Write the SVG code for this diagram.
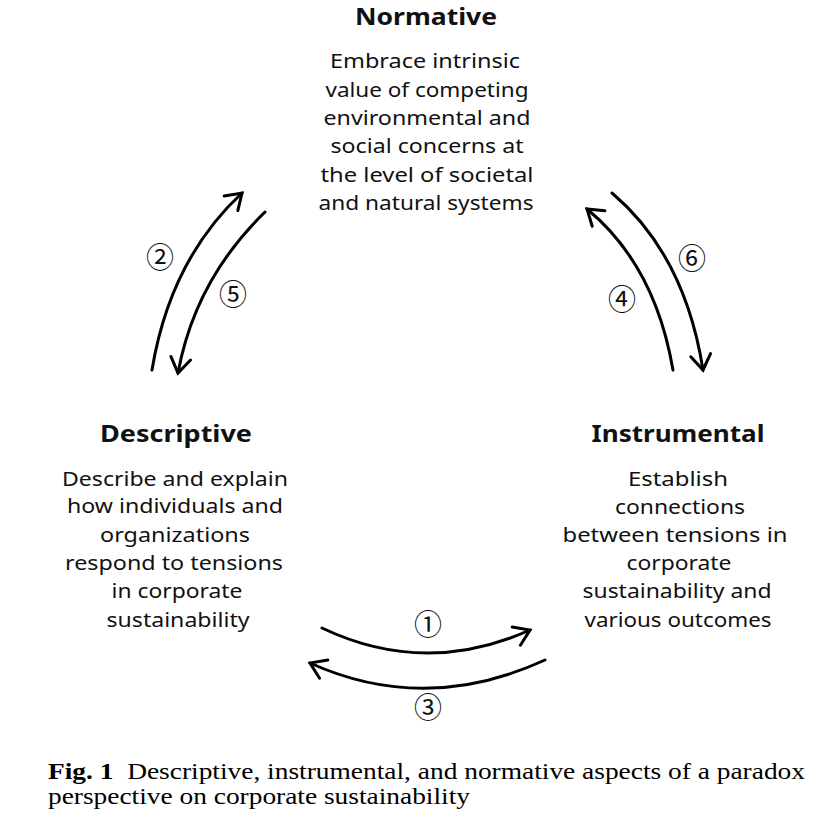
<svg xmlns="http://www.w3.org/2000/svg" width="838" height="822" viewBox="0 0 838 822">
<defs>
<style>
.t{font-family:"Noto Sans","Liberation Sans",sans-serif;font-size:20.5px;fill:#111;text-anchor:middle}
.h{font-family:"Noto Sans","Liberation Sans",sans-serif;font-size:23px;font-weight:bold;fill:#111;text-anchor:middle}
.n{font-family:"Noto Sans CJK JP","Noto Sans CJK SC",sans-serif;font-size:28px;fill:#111;text-anchor:middle}
.c{font-family:"Liberation Serif","Times New Roman",serif;font-size:24px;fill:#000;white-space:pre}
.a{fill:none;stroke:#000;stroke-width:3;stroke-linecap:round;marker-end:url(#ah)}
</style>
<marker id="ah" markerUnits="userSpaceOnUse" markerWidth="40" markerHeight="40" refX="0" refY="0" orient="auto" overflow="visible">
<path d="M-15,-10 L0,0 L-15,10" fill="none" stroke="#000" stroke-width="3" stroke-linecap="round" stroke-linejoin="miter"/>
</marker>
</defs>
<rect width="838" height="822" fill="#fff"/>
<g id="normative">
<text class="h" x="426" y="25" textLength="142" lengthAdjust="spacingAndGlyphs">Normative</text>
<text class="t" x="425" y="68" textLength="190" lengthAdjust="spacingAndGlyphs">Embrace intrinsic</text>
<text class="t" x="427" y="97" textLength="203" lengthAdjust="spacingAndGlyphs">value of competing</text>
<text class="t" x="427" y="125" textLength="207" lengthAdjust="spacingAndGlyphs">environmental and</text>
<text class="t" x="427" y="153" textLength="193" lengthAdjust="spacingAndGlyphs">social concerns at</text>
<text class="t" x="427" y="182" textLength="213" lengthAdjust="spacingAndGlyphs">the level of societal</text>
<text class="t" x="426" y="210" textLength="215" lengthAdjust="spacingAndGlyphs">and natural systems</text>
</g>
<g id="descriptive">
<text class="h" x="176" y="442" textLength="152" lengthAdjust="spacingAndGlyphs">Descriptive</text>
<text class="t" x="175" y="486" textLength="226" lengthAdjust="spacingAndGlyphs">Describe and explain</text>
<text class="t" x="175" y="513" textLength="216" lengthAdjust="spacingAndGlyphs">how individuals and</text>
<text class="t" x="175" y="542" textLength="150" lengthAdjust="spacingAndGlyphs">organizations</text>
<text class="t" x="174" y="570" textLength="218" lengthAdjust="spacingAndGlyphs">respond to tensions</text>
<text class="t" x="177" y="598" textLength="131" lengthAdjust="spacingAndGlyphs">in corporate</text>
<text class="t" x="178" y="627" textLength="143" lengthAdjust="spacingAndGlyphs">sustainability</text>
</g>
<g id="instrumental">
<text class="h" x="678" y="442" textLength="173" lengthAdjust="spacingAndGlyphs">Instrumental</text>
<text class="t" x="678" y="486" textLength="100" lengthAdjust="spacingAndGlyphs">Establish</text>
<text class="t" x="680" y="514" textLength="130" lengthAdjust="spacingAndGlyphs">connections</text>
<text class="t" x="675" y="542" textLength="225" lengthAdjust="spacingAndGlyphs">between tensions in</text>
<text class="t" x="679" y="570" textLength="105" lengthAdjust="spacingAndGlyphs">corporate</text>
<text class="t" x="677" y="598" textLength="189" lengthAdjust="spacingAndGlyphs">sustainability and</text>
<text class="t" x="678" y="627" textLength="187" lengthAdjust="spacingAndGlyphs">various outcomes</text>
</g>
<g id="connectors">
<path class="a" d="M322,628 Q425,677 530,630"/>
<path class="a" d="M545,660 Q425,715 310,663"/>
<path class="a" d="M152,370 Q170,260 242,193"/>
<path class="a" d="M265,212 Q195,280 178,373"/>
<path class="a" d="M673,370 Q655,265 587,209"/>
<path class="a" d="M612,193 Q685,255 703,370"/>
</g>
<g id="labels">
<text class="n" x="428" y="635">①</text>
<text class="n" x="160" y="268">②</text>
<text class="n" x="428" y="718">③</text>
<text class="n" x="622" y="310">④</text>
<text class="n" x="233" y="305">⑤</text>
<text class="n" x="692" y="269">⑥</text>
</g>
<g id="caption">
<text class="c" x="48" y="779" textLength="757" lengthAdjust="spacingAndGlyphs"><tspan font-weight="bold">Fig. 1</tspan>  Descriptive, instrumental, and normative aspects of a paradox</text>
<text class="c" x="48" y="804" textLength="422" lengthAdjust="spacingAndGlyphs">perspective on corporate sustainability</text>
</g>
</svg>
